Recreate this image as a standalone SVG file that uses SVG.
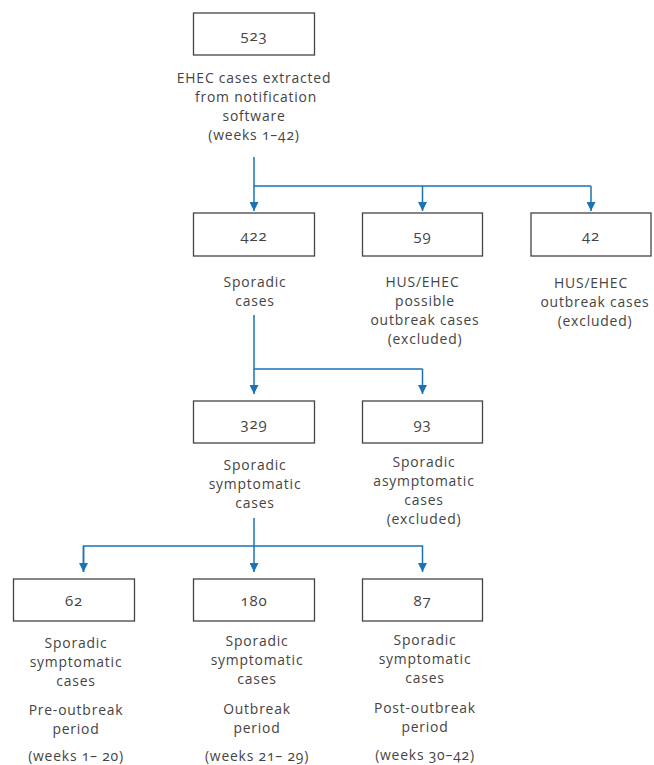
<svg xmlns="http://www.w3.org/2000/svg" width="654" height="765" viewBox="0 0 654 765">
<defs>
<marker id="arr" viewBox="0 0 10 10" refX="10" refY="5" markerWidth="9" markerHeight="9" markerUnits="userSpaceOnUse" orient="auto">
<path d="M0,0 L10,5 L0,10 z" fill="#1a73b5"/>
</marker>
<style>
.box{fill:#fff;stroke:#444;stroke-width:1.3}
text{font-family:"Open Sans","Noto Sans",sans-serif;font-size:13.9px;letter-spacing:0.8px;fill:#444;text-anchor:middle;font-variant-numeric:oldstyle-nums}
.n{font-size:15px}
.c{fill:none;stroke:#1a73b5;stroke-width:1.5}
</style>
</defs>
<rect width="654" height="765" fill="#fff"/>
<g id="connectors">
<path class="c" d="M254,157 V186 H591"/>
<path class="c" d="M254,186 V211" marker-end="url(#arr)"/>
<path class="c" d="M422.5,186 V211" marker-end="url(#arr)"/>
<path class="c" d="M591,186 V211" marker-end="url(#arr)"/>
<path class="c" d="M254,315 V369 H422.5"/>
<path class="c" d="M254,369 V394" marker-end="url(#arr)"/>
<path class="c" d="M422.5,369 V394" marker-end="url(#arr)"/>
<path class="c" d="M254,518 V546"/>
<path class="c" d="M83.5,572 V546 H422.5 V572" marker-end="url(#arr)"/>
<path class="c" d="M83.5,546 V572" marker-end="url(#arr)"/>
<path class="c" d="M254,546 V572" marker-end="url(#arr)"/>
</g>
<g id="n523">
<rect class="box" x="193.5" y="13" width="121" height="42"/>
<text class="n" x="254" y="41">523</text>
<text x="254" y="83">EHEC cases extracted</text>
<text x="256" y="102">from notification</text>
<text x="254" y="121">software</text>
<text x="254" y="140">(weeks 1–42)</text>
</g>
<g id="n422">
<rect class="box" x="193.5" y="213" width="121" height="43"/>
<text class="n" x="254" y="241">422</text>
<text x="255" y="287">Sporadic</text>
<text x="255" y="306">cases</text>
</g>
<g id="n59">
<rect class="box" x="362.5" y="213" width="120" height="43"/>
<text class="n" x="422.5" y="241">59</text>
<text x="422.5" y="287">HUS/EHEC</text>
<text x="425" y="306">possible</text>
<text x="425" y="325">outbreak cases</text>
<text x="425" y="344">(excluded)</text>
</g>
<g id="n42">
<rect class="box" x="531" y="213" width="120" height="43"/>
<text class="n" x="591" y="241">42</text>
<text x="591" y="288">HUS/EHEC</text>
<text x="595" y="307">outbreak cases</text>
<text x="595" y="326">(excluded)</text>
</g>
<g id="n329">
<rect class="box" x="193.5" y="401" width="121" height="42"/>
<text class="n" x="254" y="429">329</text>
<text x="255" y="470">Sporadic</text>
<text x="255" y="489">symptomatic</text>
<text x="255" y="508">cases</text>
</g>
<g id="n93">
<rect class="box" x="362.5" y="401" width="120" height="42"/>
<text class="n" x="422.5" y="429">93</text>
<text x="424" y="467">Sporadic</text>
<text x="424" y="486">asymptomatic</text>
<text x="424" y="505">cases</text>
<text x="424" y="524">(excluded)</text>
</g>
<g id="n62">
<rect class="box" x="13.5" y="579" width="121" height="42"/>
<text class="n" x="74" y="606">62</text>
<text x="76" y="648">Sporadic</text>
<text x="76" y="667">symptomatic</text>
<text x="76" y="686">cases</text>
<text x="76" y="715">Pre-outbreak</text>
<text x="76" y="734">period</text>
<text x="76" y="761">(weeks 1– 20)</text>
</g>
<g id="n180">
<rect class="box" x="193.5" y="579" width="121" height="42"/>
<text class="n" x="254" y="606">180</text>
<text x="257" y="646">Sporadic</text>
<text x="257" y="665">symptomatic</text>
<text x="257" y="684">cases</text>
<text x="257" y="714">Outbreak</text>
<text x="257" y="733">period</text>
<text x="257" y="761">(weeks 21– 29)</text>
</g>
<g id="n87">
<rect class="box" x="362.5" y="579" width="120" height="42"/>
<text class="n" x="422.5" y="606">87</text>
<text x="425" y="645">Sporadic</text>
<text x="425" y="664">symptomatic</text>
<text x="425" y="683">cases</text>
<text x="425" y="713">Post-outbreak</text>
<text x="425" y="732">period</text>
<text x="425" y="760">(weeks 30–42)</text>
</g>
</svg>
